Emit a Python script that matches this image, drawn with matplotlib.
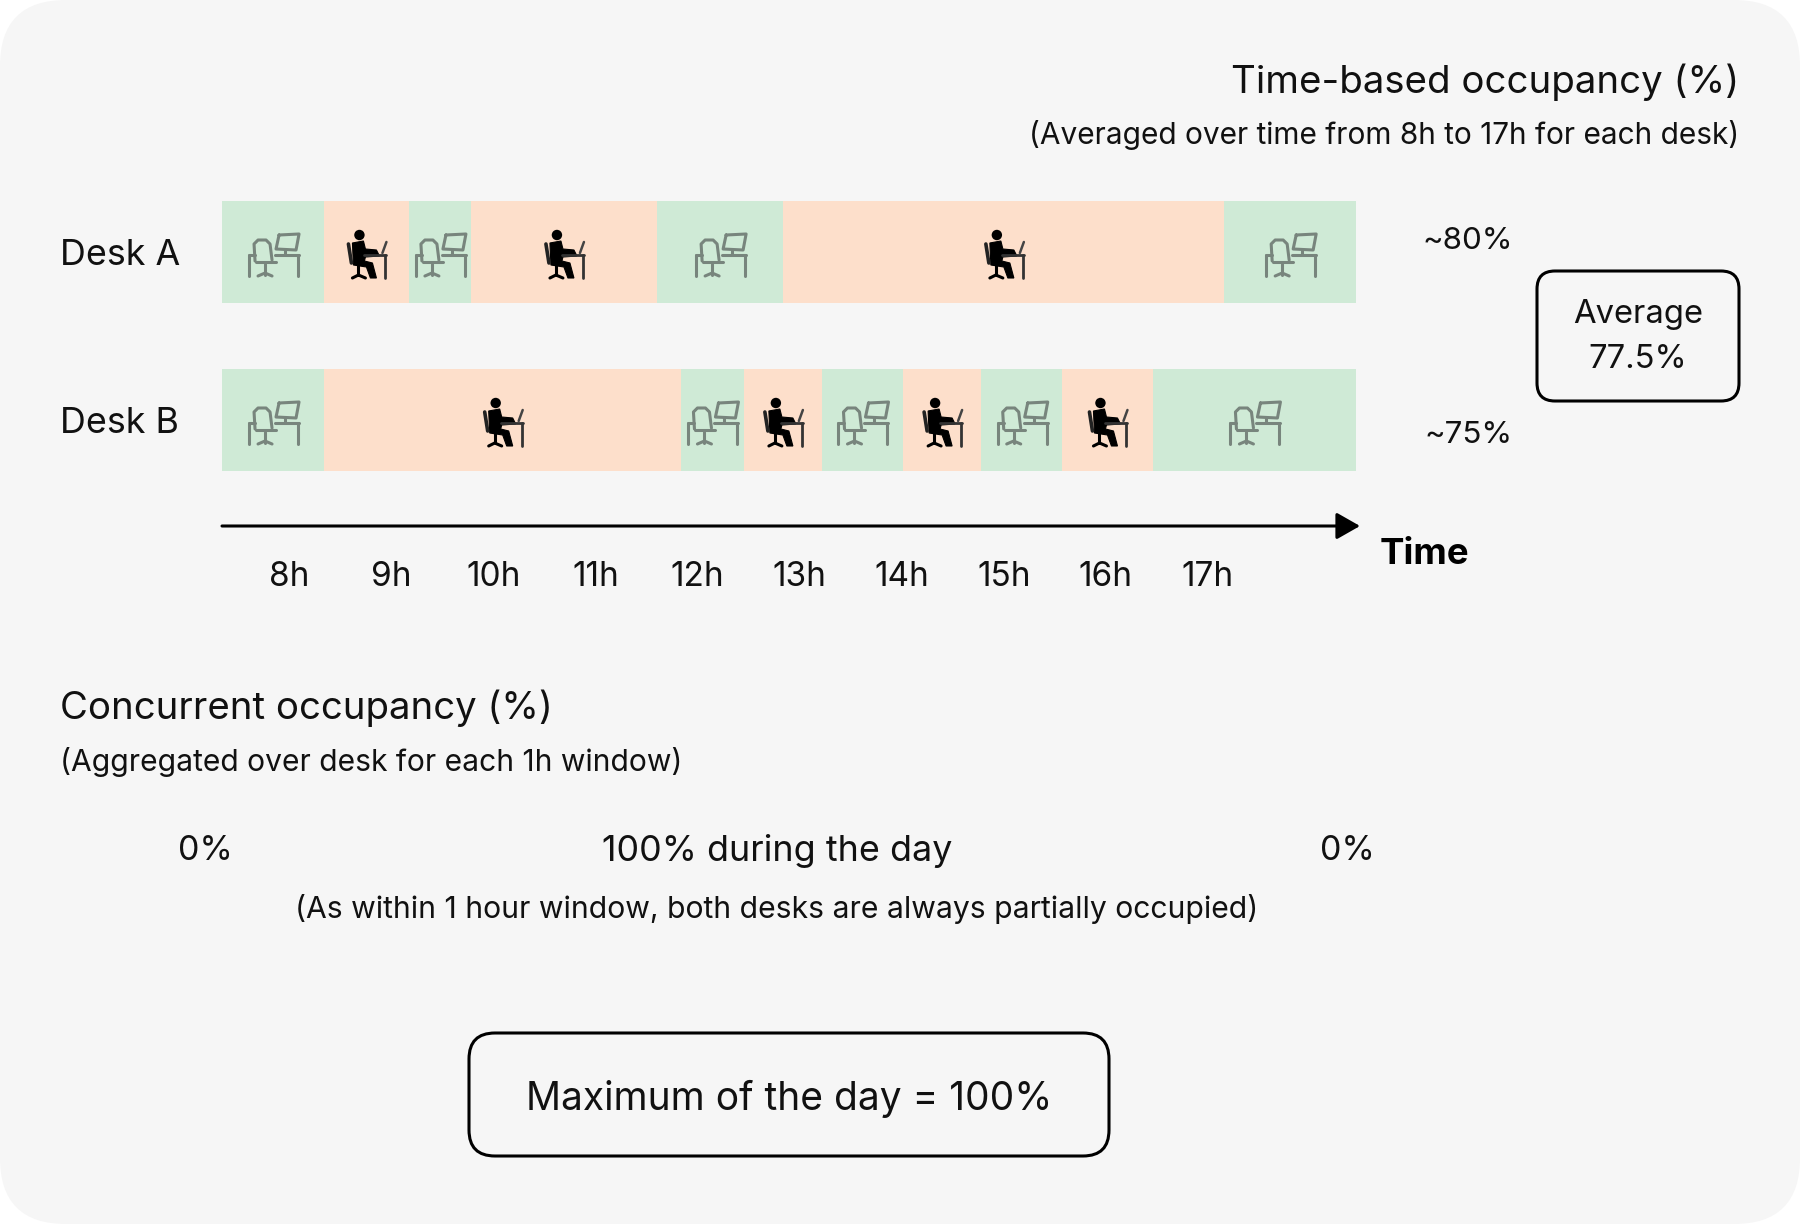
'''
Time-based vs concurrent desk occupancy diagram
'''
import matplotlib
matplotlib.use('Agg')
from matplotlib import pyplot as plt
from matplotlib.patches import FancyBboxPatch, Circle, Polygon, PathPatch
from matplotlib.path import Path
from matplotlib.transforms import Affine2D

plt.rcParams['font.family'] = ['Inter', 'DejaVu Sans']

#############################################
#DATA
desks = ['Desk A', 'Desk B']
hour_labels = ['8h', '9h', '10h', '11h', '12h', '13h', '14h', '15h', '16h', '17h']
hour_ticks = [8, 9, 10, 11, 12, 13, 14, 15, 16, 17]

#Segment edges, the state alternates from free
edges_a = [7.34, 8.34, 9.17, 9.78, 11.60, 12.84, 17.16, 18.45]
edges_b = [7.34, 8.34, 11.84, 12.45, 13.22, 14.01, 14.78, 15.57, 16.46, 18.45]
desk_edges = [edges_a, edges_b]

time_based = ['~80%', '~75%']
concurrent = ['0%', '100% during the day', '0%']
average_label = 'Average\n77.5%'
maximum_label = 'Maximum of the day = 100%'
#############################################

FREE = '#CFEAD6'
BUSY = '#FDDFCB'
BACK = '#F6F6F6'
INK = '#111111'
ICON_GREY = '#78857D'

W, H = 1800, 1224
fig = plt.figure(figsize=(W / 100, H / 100), dpi=100, facecolor='white')

#Overlay in image pixels, for the background, text and boxes
ov = fig.add_axes([0, 0, 1, 1], zorder=0)
ov.set_xlim(0, W)
ov.set_ylim(H, 0)
ov.axis('off')

ov.add_patch(FancyBboxPatch((0, 0), W, H, boxstyle='round,pad=0,rounding_size=66',
                            fc=BACK, ec='none', clip_on=True))

#Timeline axes, spans from the top of the Desk A row to the arrow
top, bottom = 201, 526
left, right = 222, 1356
ax = fig.add_axes([left / W, 1 - bottom / H, (right - left) / W, (bottom - top) / H], zorder=1)
ax.patch.set_visible(False)
ax.set_xlim(edges_a[0], edges_a[-1])
ax.set_ylim((bottom - 252) / 168, (top - 252) / 168)
for s in ax.spines.values():
    s.set_visible(False)


def line(points, color, lw, tr, closed=False):
    pts = points + [points[0]] if closed else points
    ax.add_patch(PathPatch(Path(pts), fc='none', ec=color, lw=lw, transform=tr, clip_on=False,
                           capstyle='round', joinstyle='round', zorder=4))


def free_icon(tr):
    c, lw = ICON_GREY, 2.2
    line([(-25, 2), (-25, 23)], c, lw, tr)
    line([(-25, 2), (-19, 2)], c, lw, tr)
    line([(1, 2), (25, 2)], c, lw, tr)
    line([(24, 2), (24, 23)], c, lw, tr)
    line([(-19, 8), (-20, -9), (-16, -13), (-8, -13), (-4, -9), (-2, 7)], c, lw, tr)
    line([(-18, 9), (2, 9)], c, lw, tr)
    line([(-9, 11), (-9, 22)], c, lw, tr)
    line([(-16, 23), (-9, 20), (-2, 23)], c, lw, tr)
    line([(5, -18), (25, -19), (22, -3), (2, -4)], c, lw, tr, closed=True)
    line([(11, -3), (11, 1)], c, lw, tr)


def busy_icon(tr):
    ax.add_patch(Circle((-8, -18), 5.2, fc='black', ec='none', transform=tr, clip_on=False, zorder=4))
    ax.add_patch(Polygon([(-15, -10), (-4, -12), (-2, -4), (9, -3), (12, 3), (-2, 4), (-3, 8),
                          (5, 10), (9, 25), (3, 25), (-1, 14), (-14, 12)],
                         fc='black', ec='black', lw=0.8, transform=tr, clip_on=False, zorder=4))
    line([(-19, -9), (-16, 10)], '#222222', 2.6, tr)
    line([(-9, 12), (-9, 22)], 'black', 2.2, tr)
    line([(-15, 25), (-9, 22), (-2, 25)], 'black', 2.2, tr)
    line([(-3, 2), (19, 2)], '#333333', 2, tr)
    line([(18, 2), (18, 25)], '#333333', 2, tr)
    line([(19, -11), (15, 0)], '#444444', 1.8, tr)


#Draw each desk row, the icon sits in the middle of its segment
row_h = 102 / 168
for row, edges in enumerate(desk_edges):
    for i in range(len(edges) - 1):
        free = i % 2 == 0
        ax.barh(row, edges[i + 1] - edges[i], left=edges[i], height=row_h,
                color=FREE if free else BUSY, linewidth=0)
        mid = ax.transData.transform(((edges[i] + edges[i + 1]) / 2, row))
        tr = Affine2D().scale(1, -1).translate(mid[0] + 1, mid[1] - 1)
        if free:
            free_icon(tr)
        else:
            busy_icon(tr)

ax.set_xticks(hour_ticks)
ax.set_xticklabels(hour_labels, fontsize=24, color=INK)
ax.tick_params(axis='x', length=0, pad=25)
ax.set_yticks([0, 1])
ax.set_yticklabels(desks, fontsize=25.8, color=INK, ha='left')
ax.tick_params(axis='y', length=0, pad=(left - 60) * 0.72)

ax.annotate('', xy=(1 + 4 / (right - left), 0), xytext=(0, 0), xycoords='axes fraction',
            arrowprops=dict(arrowstyle='-|>,head_length=0.72,head_width=0.41', mutation_scale=20,
                            lw=2.2, color='black', shrinkA=0, shrinkB=0))

#Text blocks
ov.text(1739, 82, 'Time-based occupancy (%)', fontsize=27.65, color=INK, ha='right', va='center')
ov.text(1739, 135, '(Averaged over time from 8h to 17h for each desk)', fontsize=21.5, color=INK,
        ha='right', va='center')
ov.text(1513, 241, time_based[0], fontsize=22.6, color=INK, ha='right', va='center')
ov.text(1513, 435, time_based[1], fontsize=22.6, color=INK, ha='right', va='center')
ov.text(1380, 554, 'Time', fontsize=26.4, fontweight='bold', color='black', ha='left', va='center')

ov.add_patch(FancyBboxPatch((1537, 271), 202, 130, boxstyle='round,pad=0,rounding_size=18',
                            fc='none', ec='black', lw=2.2))
ov.text(1638, 337, average_label, fontsize=23.6, color=INK, ha='center', va='center', linespacing=1.58)

ov.text(60, 708, 'Concurrent occupancy (%)', fontsize=27.6, color=INK, ha='left', va='center')
ov.text(60, 762, '(Aggregated over desk for each 1h window)', fontsize=21.6, color=INK, ha='left', va='center')

ov.text(205.5, 851, concurrent[0], fontsize=24.5, color=INK, ha='center', va='center')
ov.text(777, 851, concurrent[1], fontsize=25.8, color=INK, ha='center', va='center')
ov.text(1347.5, 851, concurrent[2], fontsize=24.5, color=INK, ha='center', va='center')
ov.text(777, 909, '(As within 1 hour window, both desks are always partially occupied)', fontsize=21.7,
        color=INK, ha='center', va='center')

ov.add_patch(FancyBboxPatch((469, 1033), 640, 123, boxstyle='round,pad=0,rounding_size=26',
                            fc='none', ec='black', lw=2.2))
ov.text(789, 1099, maximum_label, fontsize=28, color=INK, ha='center', va='center')

fig.savefig('out.png', dpi=100)
